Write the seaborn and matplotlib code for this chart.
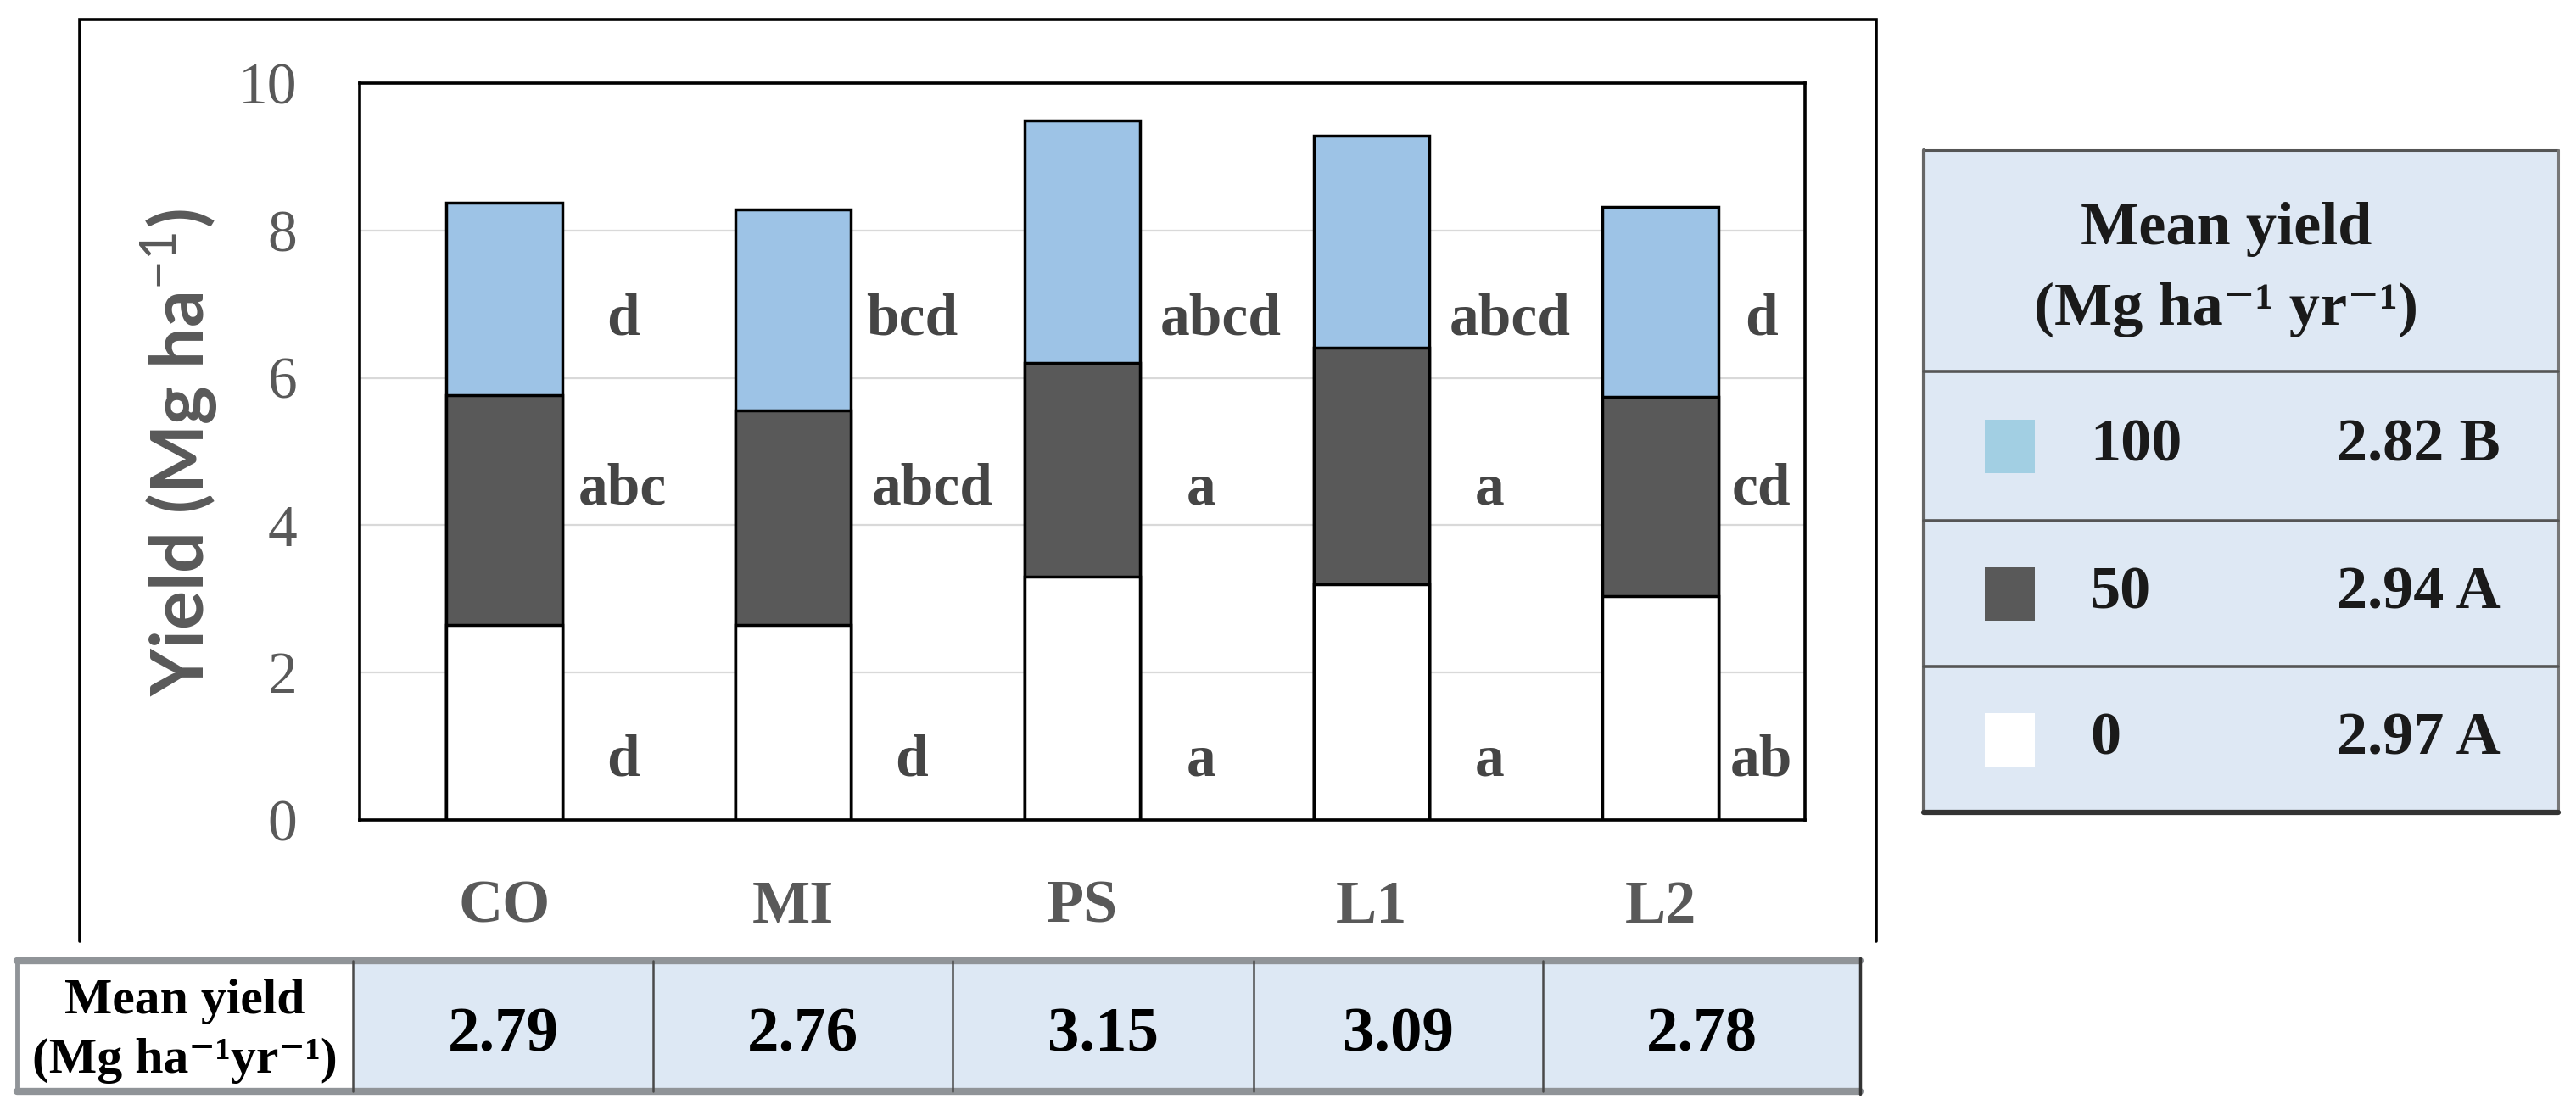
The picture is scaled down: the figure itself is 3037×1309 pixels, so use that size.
import matplotlib.pyplot as plt
from matplotlib.patches import Rectangle
import seaborn as sns
import pandas as pd

# data
systems = ['CO', 'MI', 'PS', 'L1', 'L2']
rates = ['0', '50', '100']
yield_0 = [2.65, 2.65, 3.30, 3.20, 3.04]
yield_50 = [3.11, 2.91, 2.90, 3.21, 2.70]
yield_100 = [2.62, 2.72, 3.29, 2.88, 2.58]
letters_0 = ['d', 'd', 'a', 'a', 'ab']
letters_50 = ['abc', 'abcd', 'a', 'a', 'cd']
letters_100 = ['d', 'bcd', 'abcd', 'abcd', 'd']
system_means = ['2.79', '2.76', '3.15', '3.09', '2.78']
rate_means = ['2.97 A', '2.94 A', '2.82 B']

colors = {'0': 'white', '50': '#595959', '100': '#9DC3E6'}
swatch_colors = {'0': 'white', '50': '#595959', '100': '#A2CFE3'}
label_y = {'0': 0.8, '50': 4.48, '100': 6.78}
SERIF = ['Liberation Serif', 'DejaVu Serif']
GREY = '#595959'

df = pd.DataFrame({
    'system': systems * 3,
    'rate': ['0'] * 5 + ['50'] * 5 + ['100'] * 5,
    'yield': yield_0 + yield_50 + yield_100,
    'letter': letters_0 + letters_50 + letters_100,
})
df['top'] = df.groupby('system', sort=False)['yield'].cumsum()

sns.set_theme(style='white')
plt.rcParams['font.family'] = SERIF
plt.rcParams['mathtext.fontset'] = 'custom'
plt.rcParams['mathtext.rm'] = 'Lato'
plt.rcParams['mathtext.bf'] = 'Lato:bold'

W, H = 3037, 1309
fig = plt.figure(figsize=(W / 100, H / 100), dpi=100)
fig.patch.set_facecolor('white')

# overlay in pixel coordinates for the frame and the tables
ov = fig.add_axes([0, 0, 1, 1])
ov.set_xlim(0, W)
ov.set_ylim(H, 0)
ov.axis('off')

ax = fig.add_axes([424 / W, 1 - 967 / H, 1704 / W, 869 / H])

# stacked bars: draw cumulative tops from highest layer down
for r in reversed(rates):
    sub = df[df['rate'] == r]
    sns.barplot(data=sub, x='system', y='top', order=systems, color=colors[r],
                saturation=1, width=0.4, edgecolor='black', linewidth=2.5,
                errorbar=None, ax=ax, zorder=2)

for i, s in enumerate(systems):
    for r in rates:
        row = df[(df['system'] == s) & (df['rate'] == r)].iloc[0]
        off = 0.41 if len(row['letter']) < 4 else 0.48
        if i == len(systems) - 1:
            off = 0.35
        ax.text(i + off, label_y[r], row['letter'], ha='center', va='center',
                fontsize=50, fontweight='bold', color='#454545', family=SERIF)

ax.set_xlim(-0.5, 4.5)
ax.set_ylim(0, 10)
ax.set_yticks(range(0, 11, 2))
ax.yaxis.grid(True, color='#D9D9D9', linewidth=1.6)
ax.set_axisbelow(True)
ax.set_xlabel('')
ax.set_ylabel('')
for sp in ax.spines.values():
    sp.set_visible(True)
    sp.set_color('black')
    sp.set_linewidth(2.6)
ax.tick_params(axis='y', length=0, pad=53, labelsize=50, labelcolor=GREY)
ax.tick_params(axis='x', length=0, pad=51, labelsize=52, labelcolor=GREY)
for t in ax.get_xticklabels():
    t.set_fontweight('bold')
    t.set_family(SERIF)
for t in ax.get_yticklabels():
    t.set_family(SERIF)

fig.text(212 / W, 1 - 534 / H, r'Yield (Mg ha$^{-1}$)', rotation=90,
         ha='center', va='center', fontsize=62, fontweight='bold',
         color=GREY, family='Lato')

# outer chart frame (open at the bottom)
ov.plot([94, 94, 2212, 2212], [1110, 23, 23, 1110], color='black', lw=2.6,
        solid_joinstyle='miter')

# bottom table of system means
cols = [20, 416, 770, 1123, 1478, 1819, 2193]
t_top, t_bot = 1133, 1287
ov.add_patch(Rectangle((cols[1], t_top), cols[-1] - cols[1], t_bot - t_top,
                       facecolor='#DDE8F4', edgecolor='none'))
ov.plot([cols[0], cols[-1]], [t_top, t_top], color='#909498', lw=6)
ov.plot([cols[0], cols[-1]], [t_bot, t_bot], color='#909498', lw=6)
ov.plot([cols[0], cols[0]], [t_top, t_bot], color='#909498', lw=3.5)
for x in cols[1:-1]:
    ov.plot([x, x], [t_top, t_bot], color='#4A4A4A', lw=1.8)
ov.plot([cols[-1], cols[-1]], [t_top - 3, t_bot + 3], color='#333333', lw=2.5)
ov.text((cols[0] + cols[1]) / 2, 1195, 'Mean yield', ha='center', va='baseline',
        fontsize=43, fontweight='bold', color='black', family=SERIF)
ov.text((cols[0] + cols[1]) / 2, 1265, '(Mg ha\u207b\u00b9yr\u207b\u00b9)', ha='center',
        va='baseline', fontsize=43, fontweight='bold', color='black', family=SERIF)
for k, v in enumerate(system_means):
    ov.text((cols[k + 1] + cols[k + 2]) / 2, 1221, v, ha='center', va='center',
            fontsize=54, fontweight='bold', color='black', family=SERIF)

# legend table of rate means
lx0, lx1, ly0, ly1 = 2268, 3016, 177, 958
seps = [438, 614, 786]
ov.add_patch(Rectangle((lx0, ly0), lx1 - lx0, ly1 - ly0, facecolor='#DEE8F4',
                       edgecolor='none'))
ov.plot([lx0, lx1], [ly0, ly0], color='#555555', lw=2.2)
ov.plot([lx0, lx0], [ly0, ly1], color='#666666', lw=3)
ov.plot([lx1, lx1], [ly0, ly1], color='#777777', lw=2.2)
ov.plot([lx0, lx1], [ly1, ly1], color='#333333', lw=4.5)
for y in seps:
    ov.plot([lx0, lx1], [y, y], color='#555555', lw=2.6)
ov.text(2625, 288, 'Mean yield', ha='center', va='baseline', fontsize=52,
        fontweight='bold', color='#1A1A1A', family=SERIF)
ov.text(2625, 383, '(Mg ha\u207b\u00b9 yr\u207b\u00b9)', ha='center', va='baseline',
        fontsize=52, fontweight='bold', color='#1A1A1A', family=SERIF)
row_edges = seps + [ly1]
for k, r in enumerate(reversed(rates)):
    yc = (row_edges[k] + row_edges[k + 1]) / 2
    ov.add_patch(Rectangle((2340, yc - 31), 59, 63, facecolor=swatch_colors[r],
                           edgecolor='none'))
    ov.text(2464, yc, r, ha='left', va='center', fontsize=52, fontweight='bold',
            color='#1A1A1A', family=SERIF)
    ov.text(2755, yc, rate_means[rates.index(r)], ha='left', va='center',
            fontsize=52, fontweight='bold', color='#1A1A1A', family=SERIF)

fig.savefig('out.png', dpi=100, facecolor='white')
